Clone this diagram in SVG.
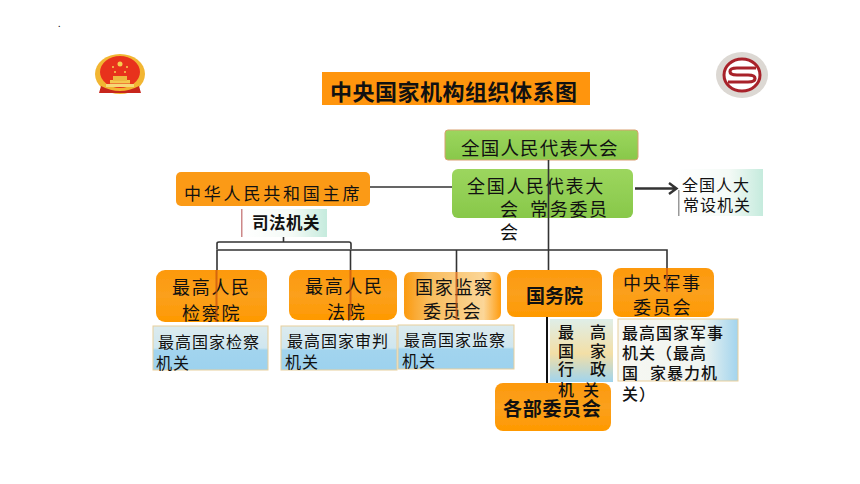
<svg xmlns="http://www.w3.org/2000/svg" width="860" height="484" viewBox="0 0 860 484">
<style>
text{font-family:"Noto Sans CJK SC","Noto Sans",sans-serif;fill:#111}
.t18{font-size:18px;letter-spacing:1.7px}
.t16{font-size:16px;letter-spacing:1px}
.b{font-weight:700}
.m{font-weight:500}
.ln{fill:none;stroke:#333;stroke-width:1.600}
.tint{fill:none;stroke:#c4500f;stroke-width:2;opacity:.7}
.or{fill:url(#orange)}
.gr{fill:url(#green)}
.bl{fill:url(#blue);stroke:#e8cf9c;stroke-width:1}
.sh{filter:url(#soft)}
.st{fill:#f6d050}
</style>
<defs>
<filter id="soft" x="-10%" y="-10%" width="120%" height="120%"><feGaussianBlur stdDeviation="0.5"/></filter>
<linearGradient id="orange" x1="0" y1="0" x2="0" y2="1"><stop offset="0" stop-color="#fd990c"/><stop offset=".5" stop-color="#fba01c"/><stop offset="1" stop-color="#ff9900"/></linearGradient>
<linearGradient id="orange2" x1="0" y1="0" x2="1" y2="0"><stop offset="0" stop-color="#fb9a10"/><stop offset=".25" stop-color="#f9bc5c"/><stop offset=".82" stop-color="#fbd698"/><stop offset="1" stop-color="#ff9c10"/></linearGradient>
<linearGradient id="green" x1="0" y1="0" x2="0" y2="1"><stop offset="0" stop-color="#9cd65e"/><stop offset="1" stop-color="#88c84a"/></linearGradient>
<linearGradient id="blue" x1="0" y1="0" x2="0" y2="1"><stop offset="0" stop-color="#dcebee"/><stop offset=".5" stop-color="#cfe6ef"/><stop offset=".55" stop-color="#a2d4ee"/><stop offset="1" stop-color="#9dd2ee"/></linearGradient>
<linearGradient id="pale" x1="0" y1="0" x2="1" y2="0"><stop offset="0" stop-color="#f7f7f2"/><stop offset=".7" stop-color="#f0f5f0"/><stop offset="1" stop-color="#a2d4ee"/></linearGradient>
<linearGradient id="mix" x1="0" y1="0" x2="0" y2="1"><stop offset="0" stop-color="#dfeee8"/><stop offset=".55" stop-color="#f3dfa6"/><stop offset="1" stop-color="#a0d4ee"/></linearGradient>
<linearGradient id="mint" x1="0" y1="0" x2="1" y2="0"><stop offset="0" stop-color="#fff"/><stop offset=".6" stop-color="#f4faf6"/><stop offset="1" stop-color="#c5ebdd"/></linearGradient>
</defs>
<rect width="860" height="484" fill="#fff"/>
<text x="58" y="27" font-size="9">.</text>

<g id="emblem" class="sh">
<ellipse cx="120" cy="74" rx="25" ry="20" fill="#f2b632"/>
<ellipse cx="120" cy="72" rx="20" ry="16" fill="#e8301f"/>
<circle class="st" cx="120" cy="64" r="2.500"/>
<circle class="st" cx="113" cy="67" r="1"/><circle class="st" cx="127" cy="67" r="1"/><circle class="st" cx="115" cy="72" r="1"/><circle class="st" cx="125" cy="72" r="1"/>
<rect x="110" y="80" width="20" height="3.500" fill="#f4c850"/>
<rect x="113" y="76" width="14" height="5" fill="#eeb840"/>
<rect x="106" y="84" width="28" height="3" fill="#f6d878"/>
<path d="M101 86Q120 96 139 86L141 93H99Z" fill="#c8281c"/>
</g>

<g id="seal" class="sh">
<ellipse cx="742" cy="75" rx="26" ry="23" fill="#dcd8d3"/>
<ellipse cx="742" cy="75" rx="19" ry="17" fill="#fff"/>
<ellipse cx="742" cy="75" rx="18" ry="16" fill="none" stroke="#a8232a" stroke-width="3"/>
<path d="M756 68H737Q730 68 730 71.500T737 75H748Q755 75 755 78.500T748 82H728" fill="none" stroke="#a8232a" stroke-width="3.200"/>
</g>

<g id="title"><rect class="sh" x="322" y="72" width="268" height="33" fill="#ff9507"/>
<text x="330" y="100" font-size="22" class="b" letter-spacing=".5">中央国家机构组织体系图</text></g>

<g id="npc"><rect class="gr sh" x="445" y="130" width="193" height="30" rx="3" stroke="#d9a070"/>
<text x="461" y="155" font-size="18.500" letter-spacing="1.200">全国人民代表大会</text></g>

<g id="standing"><rect class="gr sh" x="452" y="169" width="181" height="49" rx="6"/>
<text class="t18" x="467" y="193">全国人民代表大</text>
<text class="t18" x="500" y="216">会<tspan x="530">常务委员</tspan></text>
<text class="t18" x="500" y="239">会</text></g>

<g id="president"><rect class="sh" x="176" y="172" width="194" height="34" rx="5" fill="#fb9a18"/>
<text x="184" y="200" font-size="17" letter-spacing="2.800">中华人民共和国主席</text></g>

<g id="judicial"><rect class="sh" x="241" y="209" width="86" height="28" fill="url(#mint)"/><rect x="241" y="209" width="1.500" height="28" fill="#c88"/>
<text x="252" y="229" font-size="16.500" class="b" letter-spacing=".5">司法机关</text></g>

<g id="standing-organ"><rect class="sh" x="678" y="169" width="85" height="47" fill="url(#mint)"/><rect x="678" y="190" width="1.500" height="26" fill="#999"/>
<text class="t16" x="682" y="191">全国人大</text><text class="t16" x="683" y="211">常设机关</text></g>

<g id="procuratorate"><rect class="or sh" x="156" y="270" width="111" height="52" rx="9"/>
<text class="t18" x="172" y="294">最高人民</text><text class="t18" x="182" y="320">检察院</text></g>
<g id="court"><rect class="or sh" x="289" y="270" width="108" height="50" rx="9"/>
<text class="t18" x="305" y="293">最高人民</text><text class="t18" x="327" y="319">法院</text></g>
<g id="supervision"><rect class="sh" x="404" y="272" width="97" height="48" rx="7" fill="url(#orange2)"/>
<text class="t18" x="415" y="294">国家监察</text><text class="t18" x="423" y="318">委员会</text></g>
<g id="state-council"><rect class="or sh" x="507" y="270" width="95" height="47" rx="8"/>
<text x="526" y="303" font-size="19" class="b">国务院</text></g>
<g id="military"><rect class="or sh" x="613" y="268" width="101" height="49" rx="8"/>
<text class="t18" x="623" y="290">中央军事</text><text class="t18" x="633" y="314">委员会</text></g>

<g id="procuratorate-note"><rect class="bl sh" x="153" y="326" width="115" height="44"/>
<text class="t16" x="158" y="348">最高国家检察</text><text class="t16" x="156" y="369">机关</text></g>
<g id="court-note"><rect class="bl sh" x="281" y="326" width="116" height="44"/>
<text class="t16" x="287" y="347">最高国家审判</text><text class="t16" x="285" y="368">机关</text></g>
<g id="supervision-note"><rect class="bl sh" x="398" y="325" width="116" height="44"/>
<text class="t16" x="404" y="346">最高国家监察</text><text class="t16" x="402" y="367">机关</text></g>
<g id="council-note"><rect class="sh" x="550" y="319" width="63" height="63" fill="url(#mix)"/>
<text class="t16 m" x="558" y="338">最<tspan x="590">高</tspan></text>
<text class="t16 m" x="558" y="357">国<tspan x="590">家</tspan></text>
<text class="t16 m" x="558" y="375">行<tspan x="590">政</tspan></text></g>
<g id="military-note"><rect class="sh" x="618" y="319" width="120" height="62" fill="url(#pale)" stroke="#e8cf9c"/>
<text class="t16 m" x="622" y="339">最高国家军事</text>
<text class="t16 m" x="622" y="359">机关（最高</text>
<text class="t16 m" x="622" y="379">国<tspan x="650">家暴力机</tspan></text>
<text class="t16 m" x="622" y="400">关）</text></g>

<g id="ministries"><rect class="or sh" x="495" y="383" width="116" height="48" rx="8"/>
<text x="503" y="416" font-size="19" class="b" letter-spacing=".7">各部委员会</text></g>
<text class="t16 m" x="558" y="396">机<tspan x="583">关</tspan></text>

<g id="connectors">
<path class="ln" d="M548.500 160V270M370 187H452M217 270V250H667V268M350.500 250V270M456.500 250V272"/>
<path class="ln" d="M217 249V243.500Q217 242 219 242H349Q351 242 351 244V249M283.500 237V242" stroke-width="1.200"/>
<path class="ln" style="stroke:#111;stroke-width:2" d="M547 317V383"/>
<path class="ln" style="stroke-width:2.400" d="M635 188.500H676M669 183L676.500 188.500L669 194"/>
<path class="tint" d="M216.500 270V322M350.500 270V320M456.500 272V320M667 268V292"/>
</g>
</svg>
